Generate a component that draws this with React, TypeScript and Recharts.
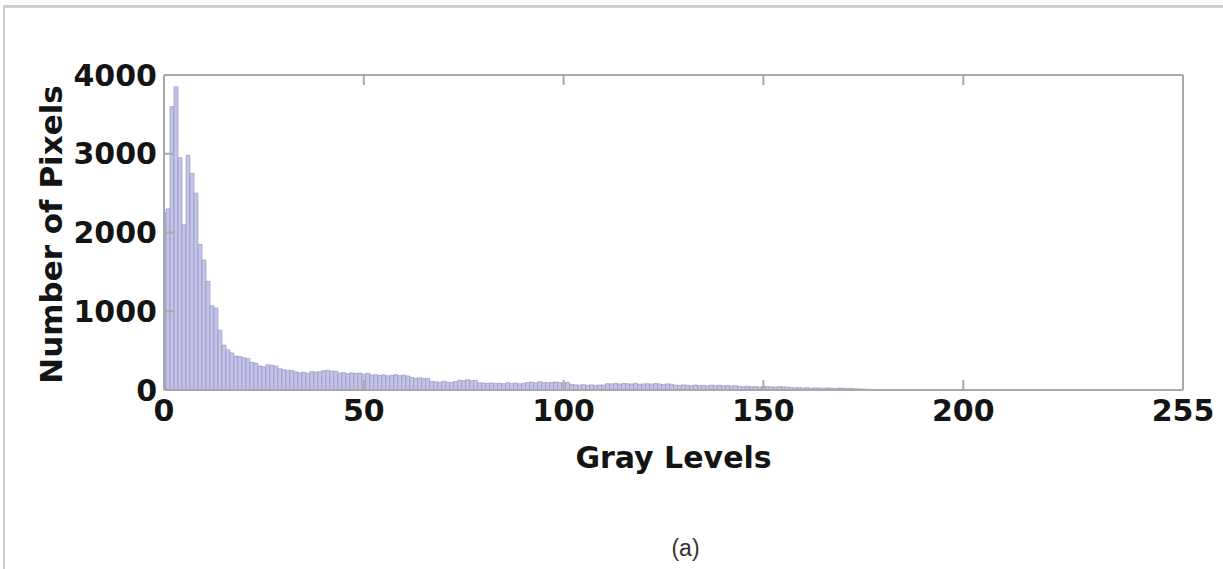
import React from "react";
import { Bar, BarChart, Label, XAxis, YAxis } from "recharts";

// histogram counts, one per gray level 0..255
const pixelCounts = [
  2250, 2300, 3600, 3850, 2950, 2100, 2980, 2750, 2500, 1850, 1650, 1380, 1070, 1040, 760, 570,
  510, 470, 430, 425, 410, 400, 350, 340, 305, 295, 320, 315, 305, 270, 258, 250,
  248, 230, 218, 225, 212, 235, 228, 232, 245, 250, 240, 238, 215, 220, 205, 218,
  210, 215, 200, 212, 190, 195, 185, 192, 180, 188, 195, 182, 190, 178, 160, 150,
  155, 145, 148, 110, 105, 98, 112, 100, 95, 108, 125, 120, 130, 118, 122, 92,
  88, 85, 90, 82, 86, 80, 92, 84, 88, 78, 85, 95, 100, 90, 105, 96,
  92, 98, 102, 95, 88, 100, 70, 65, 62, 68, 60, 66, 58, 64, 62, 80,
  78, 85, 75, 82, 80, 76, 84, 72, 78, 80, 74, 82, 76, 70, 78, 74,
  62, 58, 65, 60, 55, 63, 58, 60, 52, 62, 56, 60, 54, 58, 50, 56,
  45, 42, 48, 40, 44, 38, 46, 42, 40, 36, 44, 40, 38, 30, 28, 32,
  26, 30, 24, 28, 25, 22, 27, 24, 20, 26, 22, 18, 20, 16, 15, 12,
  10, 8, 6, 5, 4, 3, 3, 2, 2, 1, 1, 1, 0, 0, 0, 0,
  0, 0, 0, 0, 0, 0, 0, 0, 0, 0, 0, 0, 0, 0, 0, 0,
  0, 0, 0, 0, 0, 0, 0, 0, 0, 0, 0, 0, 0, 0, 0, 0,
  0, 0, 0, 0, 0, 0, 0, 0, 0, 0, 0, 0, 0, 0, 0, 0,
  0, 0, 0, 0, 0, 0, 0, 0, 0, 0, 0, 0, 0, 0, 0, 0,
];

const xTicks = [0, 50, 100, 150, 200, 255];
const yTicks = [0, 1000, 2000, 3000, 4000];
const innerXTicks = [50, 100, 150, 200];
const innerYTicks = [1000, 2000, 3000];

const xTitle = "Gray Levels";
const yTitle = "Number of Pixels";
const caption = "(a)";

const FONT = "'DejaVu Sans', sans-serif";
const AXIS = "#a9a9a9";
const tickStyle = { fill: "#141414", fontSize: 30, fontWeight: 700, fontFamily: FONT };
const noLabel = () => <g />;

export default function App() {
  const data = pixelCounts.map((count, level) => ({ level, count }));

  return (
    <div
      style={{
        position: "absolute",
        left: 0,
        top: 0,
        width: 1223,
        height: 569,
        background: "#fff",
        overflow: "hidden",
      }}
    >
      <div
        style={{
          position: "absolute",
          left: 3,
          top: 5,
          right: -4,
          bottom: -4,
          borderTop: "3px solid #cfcfcf",
          borderLeft: "2px solid #cfcfcf",
        }}
      />
      <BarChart
        width={1223}
        height={569}
        data={data}
        margin={{ top: 74, right: 39, bottom: 0, left: 0 }}
        barCategoryGap={0}
        barGap={0}
        style={{ position: "absolute", left: 0, top: 0 }}
      >
        <XAxis
          dataKey="level"
          type="number"
          domain={[0, 255]}
          allowDataOverflow
          ticks={xTicks}
          interval={0}
          height={179}
          tickSize={-10}
          tickMargin={20}
          stroke={AXIS}
          strokeWidth={2}
          tick={tickStyle}
        >
          <Label
            content={({ viewBox }: any) => (
              <g>
                <text
                  x={viewBox.x + viewBox.width / 2}
                  y={viewBox.y + 78}
                  textAnchor="middle"
                  fill="#141414"
                  fontSize={30}
                  fontWeight={700}
                  fontFamily={FONT}
                >
                  {xTitle}
                </text>
                <text
                  x={viewBox.x + viewBox.width / 2 + 12}
                  y={viewBox.y + 166}
                  textAnchor="middle"
                  fill="#333"
                  fontSize={23}
                  fontFamily="'Liberation Sans', Arial, sans-serif"
                >
                  {caption}
                </text>
              </g>
            )}
          />
        </XAxis>
        <XAxis
          xAxisId="top"
          orientation="top"
          type="number"
          domain={[0, 255]}
          ticks={innerXTicks}
          interval={0}
          height={1}
          tickSize={-10}
          tick={noLabel}
          stroke={AXIS}
          strokeWidth={2}
        />
        <YAxis
          type="number"
          domain={[0, 4000]}
          ticks={yTicks}
          interval={0}
          width={164}
          tickSize={-10}
          tickMargin={17}
          stroke={AXIS}
          strokeWidth={2}
          tick={tickStyle}
        >
          <Label
            content={({ viewBox }: any) => {
              const cx = 62;
              const cy = viewBox.y + viewBox.height / 2 + 2;
              return (
                <text
                  x={cx}
                  y={cy}
                  transform={`rotate(-90, ${cx}, ${cy})`}
                  textAnchor="middle"
                  fill="#141414"
                  fontSize={31}
                  fontWeight={700}
                  fontFamily={FONT}
                >
                  {yTitle}
                </text>
              );
            }}
          />
        </YAxis>
        <YAxis
          yAxisId="right"
          orientation="right"
          type="number"
          domain={[0, 4000]}
          ticks={innerYTicks}
          interval={0}
          width={1}
          tickSize={-10}
          tick={noLabel}
          stroke={AXIS}
          strokeWidth={2}
        />
        <Bar
          dataKey="count"
          fill="#c4c4ea"
          stroke="#8f8fb8"
          strokeWidth={0.6}
          isAnimationActive={false}
        />
      </BarChart>
    </div>
  );
}
